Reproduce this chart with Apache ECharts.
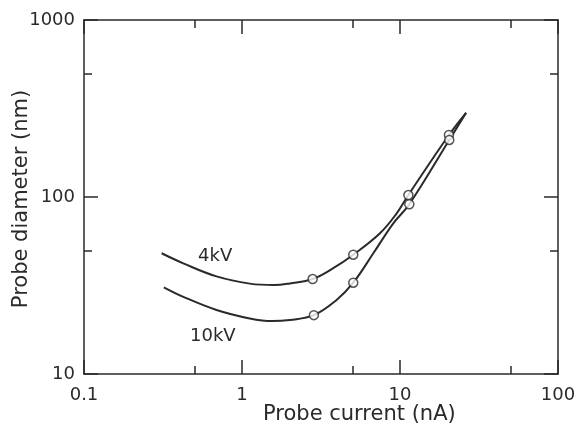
<!DOCTYPE html>
<html>
<head>
<meta charset="utf-8">
<script src="https://cdn.jsdelivr.net/npm/echarts@6/dist/echarts.min.js"></script>
<style>
  html, body { margin: 0; padding: 0; background: #fff; }
  #probe_chart { width: 577px; height: 435px; }
</style>
</head>
<body>
<div id="probe_chart"></div>
<script>
// curves: probe current (nA) vs probe diameter (nm)
var current4kV  = [0.31, 0.425, 0.69, 1.12, 1.6, 2.01, 2.8, 3.78, 5.06, 7.47, 9.53, 11.3, 20.4, 26.2];
var diameter4kV = [48.1, 42.2, 35.6, 32.4, 31.8, 32.5, 34.4, 39.6, 47.2, 62.4, 80.9, 102.6, 224, 299];
var current10kV  = [0.32, 0.425, 0.69, 1.12, 1.55, 2.01, 2.85, 3.97, 5.06, 6.78, 9.07, 11.45, 20.5, 26.2];
var diameter10kV = [30.9, 27.3, 23.0, 20.6, 19.9, 20.2, 21.5, 26.2, 32.8, 48.1, 71.0, 91.0, 210, 299];

// measured points (open circles)
var markCurrent4kV  = [2.8, 5.06, 11.3, 20.4];
var markDiameter4kV = [34.4, 47.2, 102.6, 224];
var markCurrent10kV  = [2.85, 5.06, 11.45, 20.5];
var markDiameter10kV = [21.5, 32.8, 91.0, 210];

var xMajorTicks = [0.1, 1, 10, 100];
var xMinorTicks = [0.5, 5, 50];
var yMajorTicks = [10, 100, 1000];
var yMinorTicks = [50, 500];

var ink = '#2a2a2a';
var fontFam = 'DejaVu Sans';

function zip(xs, ys) {
    return xs.map(function (x, i) { return [x, ys[i]]; });
}
function plain(v) { return String(v); }

// 坐标轴, 刻度朝内
function xAxisOf(pos, ticks, len, line, labels) {
    return {
        type: 'log', logBase: 10, min: 0.1, max: 100, position: pos,
        splitLine: { show: false },
        axisLine: { show: line, lineStyle: { color: ink, width: 1.5 } },
        axisTick: { show: true, inside: true, length: len, customValues: ticks,
                    lineStyle: { color: ink, width: 1.5 } },
        axisLabel: { show: labels, margin: 12, color: ink, fontSize: 18, fontFamily: fontFam,
                     customValues: xMajorTicks, formatter: plain }
    };
}
function yAxisOf(pos, ticks, len, line, labels) {
    return {
        type: 'log', logBase: 10, min: 10, max: 1000, position: pos,
        splitLine: { show: false },
        axisLine: { show: line, lineStyle: { color: ink, width: 1.5 } },
        axisTick: { show: true, inside: true, length: len, customValues: ticks,
                    lineStyle: { color: ink, width: 1.5 } },
        axisLabel: { show: labels, margin: 9, color: ink, fontSize: 18, fontFamily: fontFam,
                     customValues: yMajorTicks, formatter: plain }
    };
}

var myChart = echarts.init(document.getElementById('probe_chart'));

var option = {
    animation: false,
    backgroundColor: '#fff',
    grid: { left: 84, right: 19, top: 20, bottom: 61, containLabel: false, outerBoundsMode: 'none' },
    xAxis: [
        xAxisOf('bottom', xMajorTicks, 14, true, true),
        xAxisOf('bottom', xMinorTicks, 8, false, false),
        xAxisOf('top', xMajorTicks, 14, true, false),
        xAxisOf('top', xMinorTicks, 8, false, false)
    ],
    yAxis: [
        yAxisOf('left', yMajorTicks, 14, true, true),
        yAxisOf('left', yMinorTicks, 8, false, false),
        yAxisOf('right', yMajorTicks, 14, true, false),
        yAxisOf('right', yMinorTicks, 8, false, false)
    ],
    graphic: [
        { type: 'text', x: 22, y: 199, rotation: Math.PI / 2,
          style: { text: 'Probe diameter (nm)', fill: ink, fontSize: 21, fontFamily: fontFam,
                   align: 'center', verticalAlign: 'middle' } },
        { type: 'text', left: 263, top: 404,
          style: { text: 'Probe current (nA)', fill: ink, fontSize: 21, fontFamily: fontFam } },
        { type: 'text', left: 198, top: 247,
          style: { text: '4kV', fill: ink, fontSize: 18, fontFamily: fontFam } },
        { type: 'text', left: 190, top: 327,
          style: { text: '10kV', fill: ink, fontSize: 18, fontFamily: fontFam } }
    ],
    series: [
        { name: '4kV', type: 'line', smooth: 0.4, symbol: 'none',
          lineStyle: { color: ink, width: 2 }, data: zip(current4kV, diameter4kV) },
        { name: '10kV', type: 'line', smooth: 0.4, symbol: 'none',
          lineStyle: { color: ink, width: 2 }, data: zip(current10kV, diameter10kV) },
        { type: 'scatter', symbol: 'circle', symbolSize: 9,
          itemStyle: { color: '#fff', borderColor: ink, borderWidth: 1.5 },
          data: zip(markCurrent4kV, markDiameter4kV), z: 5 },
        { type: 'scatter', symbol: 'circle', symbolSize: 9,
          itemStyle: { color: '#fff', borderColor: ink, borderWidth: 1.5 },
          data: zip(markCurrent10kV, markDiameter10kV), z: 5 }
    ]
};

myChart.setOption(option);
</script>
</body>
</html>
